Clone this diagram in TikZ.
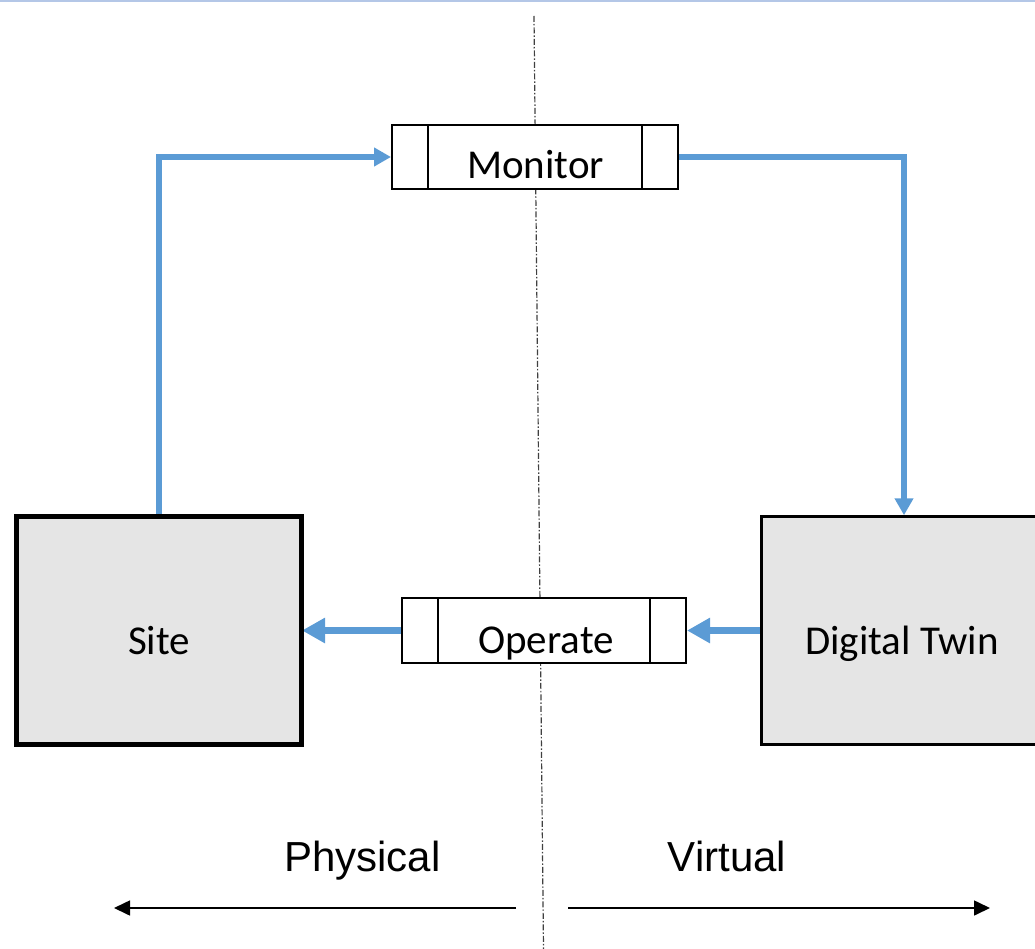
\documentclass[tikz,border=0pt]{standalone}
\usepackage{fontspec}
\newfontfamily\boxfont{Carlito}
\newfontfamily\sidefont{Liberation Sans}
\usetikzlibrary{arrows.meta,backgrounds}
\definecolor{flowblue}{HTML}{5B9BD5}
\definecolor{boxgray}{HTML}{E5E5E5}
\definecolor{rulecol}{HTML}{B4C7E7}
\definecolor{splitcol}{HTML}{404040}
\tikzset{
  block/.style={draw=black, fill=boxgray, minimum width=285pt, minimum height=228pt, inner sep=0pt},
  process/.style={draw=black, line width=2pt, fill=white, minimum width=#1, minimum height=64pt, inner sep=0pt,
    path picture={
      \draw[line width=2pt] ([xshift=36pt]path picture bounding box.north west) -- ([xshift=36pt]path picture bounding box.south west);
      \draw[line width=2pt] ([xshift=-36pt]path picture bounding box.north east) -- ([xshift=-36pt]path picture bounding box.south east);}},
  boxlabel/.style={font=\boxfont\fontsize{41}{49}\selectfont, inner sep=0pt, text height=26.4pt, text depth=0pt},
  sidelabel/.style={font=\sidefont\fontsize{42}{50}\selectfont, inner sep=0pt, text height=30pt, text depth=0pt},
  flow/.style={draw=flowblue, line width=6pt, -{Triangle[length=17pt,width=18pt]}},
  bigflow/.style={draw=flowblue, line width=7pt, -{Triangle[length=23pt,width=24pt]}},
  axis/.style={line width=1.6pt, -{Triangle[length=16pt,width=15pt]}},
  divider/.style={draw=splitcol, line width=1.2pt, dash pattern=on 6pt off 2pt on 1.5pt off 2pt},
}
\begin{document}
\begin{tikzpicture}[x=1pt, y=-1pt]
  \useasboundingbox (0,0) rectangle (1035,949);
  % thin rule along the top edge
  \draw[rulecol, line width=2pt] (0,1.5) -- (1035,1.5);

  % physical / virtual divider
  \coordinate (divtop) at (534,16);
  \coordinate (divbot) at (543.5,949);
  \draw[divider] (divtop) -- (divbot);

  % main blocks
  \node[block, line width=5pt] (site) at (159,630.5) {};
  \node[block, line width=2.5pt] (dt) at (904,630.5) {};
  \node[process=286pt] (mon) at (535,157) {};
  \node[process=284pt, minimum height=65pt] (op) at (544,630.5) {};

  % labels
  \node[boxlabel] (sitetxt) at (159,641.5) {Site};
  \node[boxlabel] (dttxt) at (902,641) {Digital Twin};
  \node[boxlabel] (montxt) at (535.5,165) {Monitor};
  \node[boxlabel] (optxt) at (546,640.5) {Operate};

  % monitor / operate loop
  \begin{scope}[on background layer]
    \draw[flow] (site.north) |- (mon.west);
    \draw[flow] (mon.east) -| (dt.north);
    \draw[bigflow] (dt.west) -- (op.east);
    \draw[bigflow, shorten >=-2pt] (op.west) -- (site.east);
  \end{scope}

  % domain captions and direction arrows
  \node[sidelabel] (phys) at (362.5,856.5) {Physical};
  \node[sidelabel] (virt) at (727,856.5) {Virtual};
  \coordinate (physstart) at (516,908);
  \coordinate (physend) at (114,908);
  \coordinate (virtstart) at (568,908);
  \coordinate (virtend) at (990,908);
  \draw[axis] (physstart) -- (physend);
  \draw[axis] (virtstart) -- (virtend);
\end{tikzpicture}
\end{document}
